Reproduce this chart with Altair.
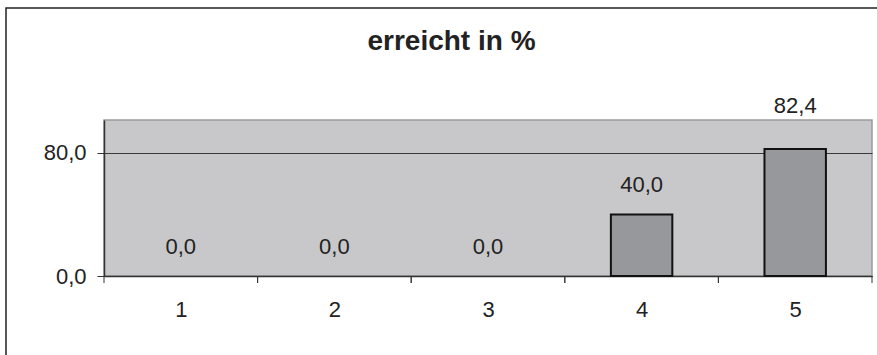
import altair as alt
import pandas as pd

# Share of points reached per category (in percent)
categories = [1, 2, 3, 4, 5]
reached = [0.0, 0.0, 0.0, 40.0, 82.4]

df = pd.DataFrame({"cat": categories, "value": reached})
frame_df = pd.DataFrame({"f": [0]})

FONT = "Liberation Sans"
INK = "#222222"
label_text = "replace(format(datum.value, '.1f'), '.', ',')"

x_scale = alt.Scale(domain=[0.5, 5.5], nice=False, zero=False)
y_scale = alt.Scale(domain=[0, 101.3], nice=False)

base = alt.Chart(df)

bars = base.transform_calculate(
    x0="datum.cat - 0.2", x1="datum.cat + 0.2"
).mark_bar(fill="#97989c", stroke="#111111", strokeWidth=2).encode(
    x=alt.X(
        "x0:Q", scale=x_scale,
        axis=alt.Axis(values=categories, format="d", title=None, labelPadding=23),
    ),
    x2="x1:Q",
    y=alt.Y(
        "value:Q",
        scale=y_scale,
        axis=alt.Axis(values=[0, 80], title=None, labelExpr=label_text, labelPadding=11),
    ),
    y2=alt.datum(0),
    strokeOpacity=alt.condition("datum.value > 0", alt.value(1), alt.value(0)),
)

# tick marks on the category boundaries, hanging below the x axis
edge_rules = alt.Chart(df).transform_calculate(
    lo="datum.cat - 0.5", hi="datum.cat + 0.5"
).transform_fold(["lo", "hi"], as_=["side", "edge"]).mark_rule(
    color="#333333", strokeWidth=1
).encode(
    x=alt.X("edge:Q", scale=x_scale),
    y=alt.value(156),
    y2=alt.value(163),
)


def value_labels(cond, shift):
    return base.transform_filter(cond).transform_calculate(lab=label_text).mark_text(
        font=FONT, fontSize=22, color=INK, baseline="alphabetic", dy=shift
    ).encode(
        x=alt.X("cat:Q", scale=x_scale),
        y=alt.Y("value:Q", scale=y_scale),
        text="lab:N",
    )


labels_low = value_labels("datum.value <= 80", -22)
labels_high = value_labels("datum.value > 80", -36)

# outer chart frame
outer = alt.Chart(frame_df).mark_rect(
    fill=None, stroke="#222222", strokeWidth=1.5
).encode(
    x=alt.value(-98), x2=alt.value(820), y=alt.value(-112), y2=alt.value(300)
)

chart = alt.layer(outer, bars, edge_rules, labels_low, labels_high).properties(
    width=768,
    height=156,
    autosize=alt.AutoSizeParams(type="none"),
    padding={"left": 104, "top": 120, "right": 5, "bottom": 79},
    background="white",
    title=alt.TitleParams(
        "erreicht in %", font=FONT, fontSize=28, fontWeight="bold", color=INK,
        anchor="middle", dx=-36.5, frame="group", baseline="alphabetic", offset=-71,
    ),
).configure_view(
    fill="#c8c8ca", stroke="#9a9a9a", strokeWidth=1.5
).configure_axis(
    domainColor="#333333", domainWidth=1.5, labelFont=FONT, labelFontSize=22,
    labelColor=INK, tickColor="#333333", tickWidth=1,
).configure_axisX(
    grid=False, ticks=False, labelBaseline="top",
).configure_axisY(
    grid=True, gridColor="#3a3a3a", gridWidth=1, gridOpacity=1, tickSize=7,
)

chart.save("out.html", embed_options={"renderer": "svg", "actions": False})
